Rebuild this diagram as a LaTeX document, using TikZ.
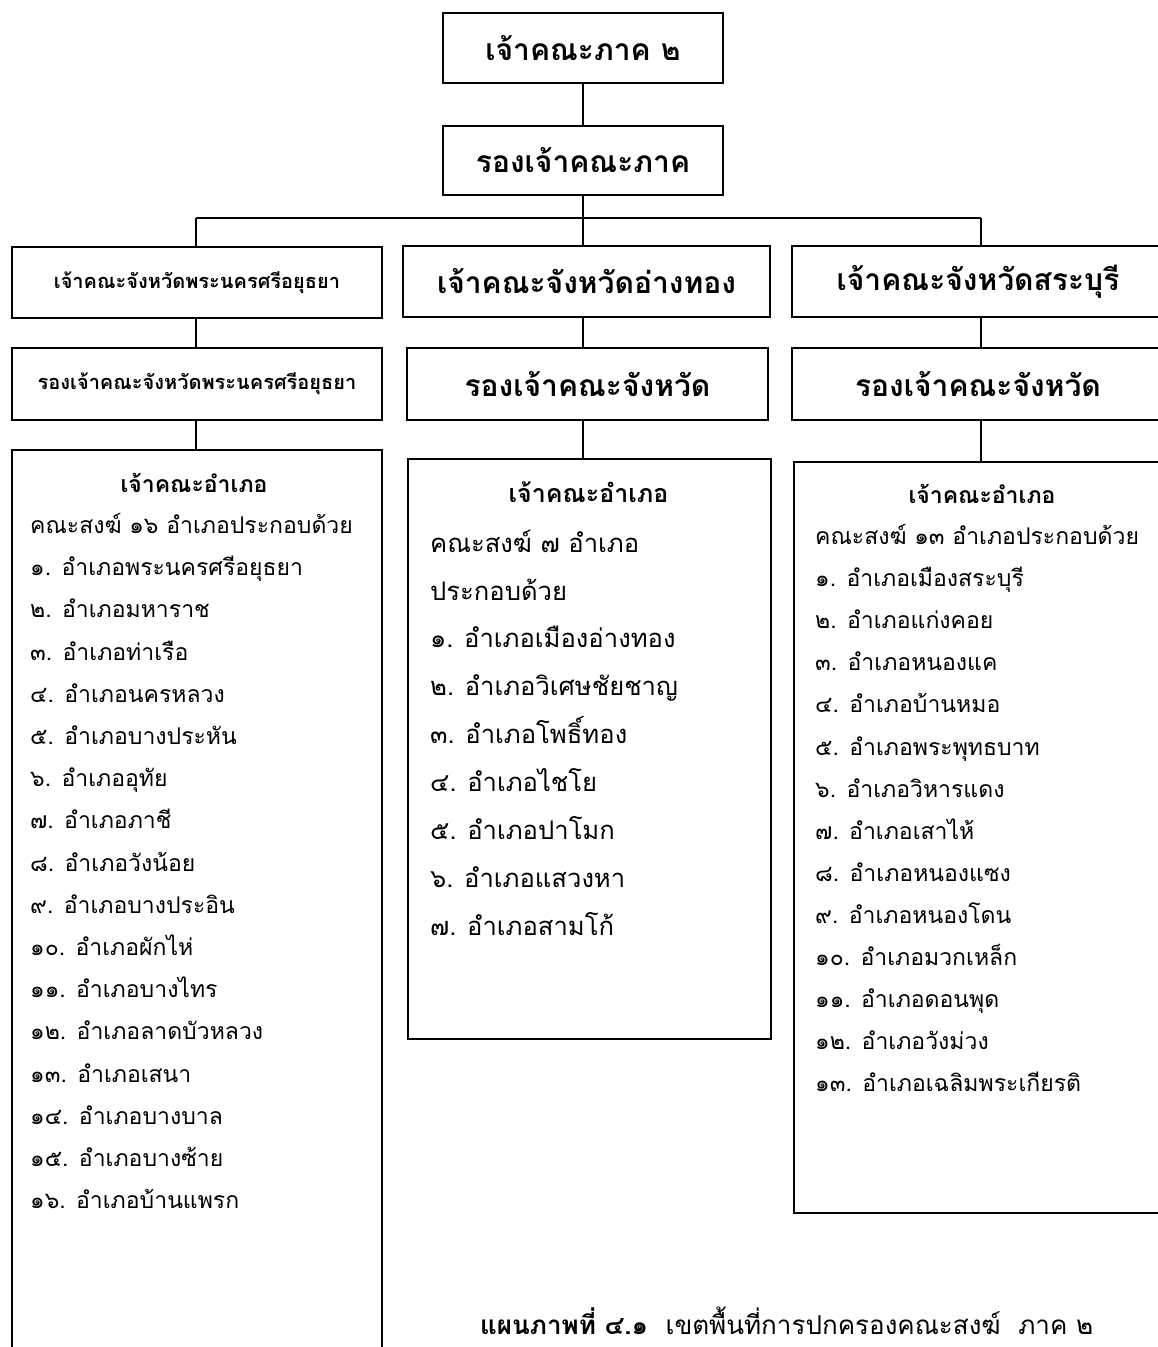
\documentclass[tikz,border=0pt]{standalone}
\usepackage{fontspec}
\newfontfamily\thai[Script=Thai]{Loma}
\begin{document}
\begin{tikzpicture}[x=1pt,y=-1pt,
  box/.style={draw,line width=1.7pt,inner sep=0pt},
  link/.style={line width=1.5pt},
  bigfont/.style={font=\thai\bfseries\fontsize{30}{32}\selectfont},
  midfont/.style={font=\thai\bfseries\fontsize{30}{32}\selectfont},
  smallfont/.style={font=\thai\bfseries\fontsize{20}{22}\selectfont},
  ttl/.style={inner sep=0pt,text height=18pt,text depth=7pt,font=\thai\bfseries\fontsize{23}{25}\selectfont},
  lst/.style={anchor=west,inner sep=0pt,text height=18pt,text depth=7pt,font=\thai\fontsize{23}{25}\selectfont},
  mlst/.style={anchor=west,inner sep=0pt,text height=20pt,text depth=8pt,font=\thai\fontsize{25.6}{28}\selectfont},
  captext/.style={anchor=west,inner sep=0pt,text height=20pt,text depth=8pt,font=\thai\fontsize{26}{28}\selectfont}
]
\useasboundingbox (0,0) rectangle (1158,1347);
\clip (0,0) rectangle (1158,1347);
% top
\node[box,bigfont,minimum width=280pt,minimum height=70pt] (k1) at (583,48) {เจ้าคณะภาค ๒};
\node[box,bigfont,minimum width=280pt,minimum height=69pt] (k2) at (583,160.5) {รองเจ้าคณะภาค};
\draw[link] (k1.south) -- (k2.north);
\coordinate (bus) at (583,218);
\coordinate (bl) at (196,218);
\coordinate (br) at (981,218);
\draw[link] (k2.south) -- (bus);
\draw[link] (bl) -- (br);
% left column
\node[box,smallfont,minimum width=370pt,minimum height=71pt] (l1) at (197,282.5) {เจ้าคณะจังหวัดพระนครศรีอยุธยา};
\node[box,smallfont,minimum width=370pt,minimum height=72pt] (l2) at (197,384) {รองเจ้าคณะจังหวัดพระนครศรีอยุธยา};
\node[box,minimum width=370pt,minimum height=950pt] (l3) at (197,925) {};
\draw[link] (bl) -- (bl |- l1.north);
\draw[link] (bl |- l1.south) -- (bl |- l2.north);
\draw[link] (bl |- l2.south) -- (bl |- l3.north);
% middle column
\node[box,midfont,minimum width=367pt,minimum height=71pt] (m1) at (586.5,281.5) {เจ้าคณะจังหวัดอ่างทอง};
\node[box,midfont,minimum width=361pt,minimum height=72pt] (m2) at (587.5,384) {รองเจ้าคณะจังหวัด};
\node[box,minimum width=363pt,minimum height=580pt] (m3) at (589.5,749) {};
\draw[link] (bus) -- (bus |- m1.north);
\draw[link] (bus |- m1.south) -- (bus |- m2.north);
\draw[link] (bus |- m2.south) -- (bus |- m3.north);
% right column
\node[box,midfont,minimum width=372pt,minimum height=71pt] (r1) at (978,281.5) {เจ้าคณะจังหวัดสระบุรี};
\node[box,midfont,minimum width=372pt,minimum height=72pt] (r2) at (978,384) {รองเจ้าคณะจังหวัด};
\node[box,minimum width=370pt,minimum height=751pt] (r3) at (979,837.5) {};
\draw[link] (br) -- (br |- r1.north);
\draw[link] (br |- r1.south) -- (br |- r2.north);
\draw[link] (br |- r2.south) -- (br |- r3.north);
% left list
\node[ttl] (lt) at (194,487) {เจ้าคณะอำเภอ};
\node[lst] (lh) at (30,528) {คณะสงฆ์ ๑๖ อำเภอประกอบด้วย};
\foreach \t [count=\i] in {๑. อำเภอพระนครศรีอยุธยา,๒. อำเภอมหาราช,๓. อำเภอท่าเรือ,๔. อำเภอนครหลวง,๕. อำเภอบางประหัน,๖. อำเภออุทัย,๗. อำเภอภาชี,๘. อำเภอวังน้อย,๙. อำเภอบางประอิน,๑๐. อำเภอผักไห่,๑๑. อำเภอบางไทร,๑๒. อำเภอลาดบัวหลวง,๑๓. อำเภอเสนา,๑๔. อำเภอบางบาล,๑๕. อำเภอบางซ้าย,๑๖. อำเภอบ้านแพรก}
  \node[lst] (la\i) at (30,528+42.2*\i) {\t};
% middle list
\node[ttl,font=\thai\bfseries\fontsize{25}{27}\selectfont] (mt) at (588.5,497) {เจ้าคณะอำเภอ};
\node[mlst] (mh) at (430,546) {คณะสงฆ์ ๗ อำเภอ};
\node[mlst] (mh2) at (430,594) {ประกอบด้วย};
\foreach \t [count=\i] in {๑.\ \hspace{2pt}อำเภอเมืองอ่างทอง,๒.\ \hspace{2pt}อำเภอวิเศษชัยชาญ,๓.\ \hspace{2pt}อำเภอโพธิ์ทอง,๔.\ \hspace{2pt}อำเภอไชโย,๕.\ \hspace{2pt}อำเภอปาโมก,๖.\ \hspace{2pt}อำเภอแสวงหา,๗.\ \hspace{2pt}อำเภอสามโก้}
  \node[mlst] (ma\i) at (430,594+47.9*\i) {\t};
% right list
\node[ttl] (rt) at (982,498) {เจ้าคณะอำเภอ};
\node[lst] (rh) at (815,539) {คณะสงฆ์ ๑๓ อำเภอประกอบด้วย};
\foreach \t [count=\i] in {๑. อำเภอเมืองสระบุรี,๒. อำเภอแก่งคอย,๓. อำเภอหนองแค,๔. อำเภอบ้านหมอ,๕. อำเภอพระพุทธบาท,๖. อำเภอวิหารแดง,๗. อำเภอเสาไห้,๘. อำเภอหนองแซง,๙. อำเภอหนองโดน,๑๐. อำเภอมวกเหล็ก,๑๑. อำเภอดอนพุด,๑๒. อำเภอวังม่วง,๑๓. อำเภอเฉลิมพระเกียรติ}
  \node[lst] (ra\i) at (815,539+42.1*\i) {\t};
% caption
\node[captext] (cp) at (480,1328) {\textbf{แผนภาพที่ ๔.๑}\ \ เขตพื้นที่การปกครองคณะสงฆ์\ \ ภาค ๒};
\end{tikzpicture}
\end{document}
